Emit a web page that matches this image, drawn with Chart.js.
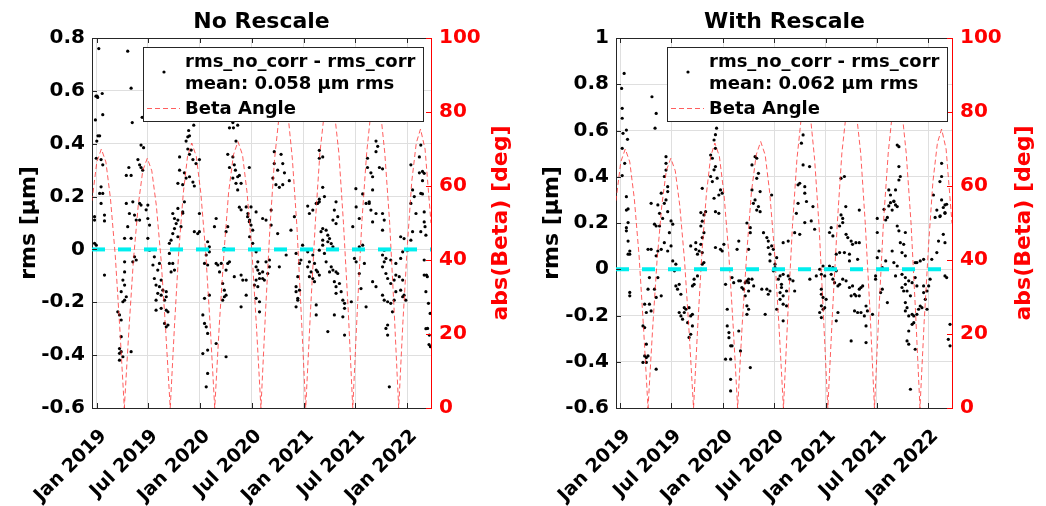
<!DOCTYPE html>
<html>
<head>
<meta charset="utf-8">
<script src="https://cdn.jsdelivr.net/npm/chart.js@4.4.0/dist/chart.umd.min.js"></script>
<style>
  html, body { margin: 0; padding: 0; background: #fff; }
  .panel { position: absolute; top: 0; width: 523px; height: 506px; }
  #panelLeft { left: 0; }
  #panelRight { left: 523px; }
</style>
</head>
<body>
<div class="panel" id="panelLeft"><canvas id="chartNoRescale" width="523" height="506"></canvas></div>
<div class="panel" id="panelRight"><canvas id="chartWithRescale" width="523" height="506"></canvas></div>
<script>
const FONT_FAMILY = '"DejaVu Sans", "Liberation Sans", sans-serif';
const AXIS_COLOR = '#262626';
const GRID_COLOR = '#dfdfdf';
const BETA_COLOR = 'rgba(255, 40, 40, 0.75)';
const ZERO_COLOR = 'rgb(0, 238, 238)';

// x axis: days since 1 Jan 2019
const xMin = -16;
const xMax = 1180;
const dateTickDays = [0, 181, 365, 547, 731, 912, 1096];
const dateTickLabels = ['Jan 2019', 'Jul 2019', 'Jan 2020', 'Jul 2020', 'Jan 2021', 'Jul 2021', 'Jan 2022'];

const rmsTicksNoRescale = [-0.6, -0.4, -0.2, 0, 0.2, 0.4, 0.6, 0.8];
const rmsTicksWithRescale = [-0.6, -0.4, -0.2, 0, 0.2, 0.4, 0.6, 0.8, 1];
const betaTicks = [0, 20, 40, 60, 80, 100];
const zeroLevel = 0;

const meanNoRescale = 0.058;
const meanWithRescale = 0.062;

const betaDays = [-16, 1, 17, 33, 49, 66, 82, 98, 114, 130, 147, 163, 179, 195, 211, 228, 244, 260,
  275, 290, 306, 321, 336, 352, 368, 385, 401, 417, 433, 450, 466, 483, 499, 515, 531, 548, 564, 580,
  596, 612, 628, 644, 660, 676, 691, 707, 722, 738, 755, 772, 788, 805, 822, 838, 855, 871, 888, 904,
  920, 936, 953, 969, 985, 1001, 1017, 1034, 1050, 1066, 1081, 1097, 1112, 1128, 1143, 1159, 1180];
const betaDeg = [56, 66.5, 70, 66.5, 56.7, 41.3, 21.7, 0, 20.9, 39.8, 54.7, 64.1, 67.5, 64.1, 54.7, 39.8, 20.9, 0,
  22.2, 42.2, 58, 68, 71.6, 68, 58, 42.2, 22.2, 0, 22.3, 42.5, 58.3, 68.4, 72, 68.4, 58.3, 42.5, 22.3, 0,
  25.7, 49, 67.2, 78.9, 83, 78.9, 67.2, 49, 25.7, 0, 26.4, 50.2, 68.9, 80.8, 85, 80.8, 68.9, 50.2, 26.4, 0,
  26.4, 50.2, 68.9, 80.8, 85, 80.8, 68.9, 50.2, 26.4, 0, 23.4, 44.5, 61.1, 71.6, 75.4, 70, 50];

// [day, rms difference in µm]
const noRescalePoints = [
  [8,0.76],[110,0.75],[-2,0.58],[2,0.58],[4,0.575],[20,0.59],[122,0.61],[22,0.51],[-4,0.49],[126,0.48],[161,0.5],
  [5,0.43],[11,0.43],[1,0.41],[157,0.395],[166,0.385],[343,0.47],[325,0.45],[328,0.43],[316,0.41],[322,0.426],[334,0.376],
  [481,0.48],[469,0.46],[483,0.46],[492,0.41],[498,0.47],
  [-1,0.345],[16,0.34],[22,0.32],[146,0.34],[152,0.32],[157,0.31],[163,0.3],[114,0.31],[105,0.28],[122,0.28],
  [293,0.35],[322,0.38],[328,0.36],[340,0.34],[363,0.34],[351,0.325],[293,0.3],[310,0.29],[316,0.27],[328,0.275],
  [287,0.25],[304,0.245],[340,0.255],[345,0.24],
  [463,0.36],[481,0.35],[486,0.32],[469,0.31],[490,0.3],[498,0.275],[481,0.27],[492,0.25],[539,0.31],[504,0.28],[510,0.25],
  [498,0.225],[504,0.16],[510,0.15],[533,0.124],[539,0.105],
  [627,0.37],[651,0.36],[627,0.325],[657,0.325],[639,0.3],[663,0.29],[622,0.27],[633,0.245],[645,0.235],[657,0.245],[680,0.26],
  [786,0.375],[786,0.345],[798,0.35],[798,0.235],[804,0.2],[786,0.19],
  [956,0.345],[986,0.37],[986,0.41],[992,0.39],[956,0.31],[968,0.29],[974,0.225],[998,0.31],[1009,0.305],[974,0.275],
  [1109,0.32],[1139,0.35],[1144,0.395],[1139,0.29],[1150,0.295],[1115,0.225],[1150,0.21],[1121,0.2],
  [16,0.237],[11,0.212],[22,0.212],[16,0.174],[105,0.174],[128,0.18],[152,0.174],[157,0.168],[181,0.168],[175,0.15],
  [745,0.164],[763,0.149],[780,0.174],[915,0.23],[939,0.21],[962,0.174],[1109,0.174],
  [-7,0.124],[-7,0.111],[28,0.13],[28,0.108],[-7,0.023],[-1,0.016],[28,-0.097],
  [116,0.136],[134,0.13],[140,0.111],[152,0.111],[110,0.086],[99,0.042],[122,0.042],
  [99,-0.047],[128,-0.047],[140,-0.04],[134,-0.028],
  [99,-0.085],[93,-0.116],[99,-0.135],[87,-0.16],[105,-0.179],[99,-0.192],[93,-0.198],
  [75,-0.236],[81,-0.248],[87,-0.267],[87,-0.33],[81,-0.375],[87,-0.387],[81,-0.393],[93,-0.406],[122,-0.387],[81,-0.419],
  [181,0.117],[187,0.092],[181,0.042],[187,-0.003],
  [204,-0.028],[199,-0.059],[222,-0.053],[216,-0.078],[204,-0.11],[228,-0.116],[210,-0.135],[222,-0.141],[234,-0.154],
  [246,-0.16],[216,-0.166],[228,-0.173],[246,-0.179],[210,-0.192],[240,-0.192],[228,-0.223],[246,-0.23],[252,-0.236],
  [210,-0.23],[240,-0.28],[246,-0.293],[252,-0.286],
  [257,-0.053],[269,-0.053],[263,-0.085],[275,-0.078],[257,-0.015],[257,0.023],[263,0.035],[269,0.06],[275,0.079],
  [281,0.098],[287,0.111],[275,0.117],[269,0.136],[287,0.155],[304,0.142],[310,0.18],[298,0.086],[304,0.137],[287,0.048],
  [363,0.136],[363,0.067],[345,0.067],[357,0.06],[392,0.029],[398,0.01],[398,-0.009],[387,-0.021],[381,-0.053],[392,-0.059],
  [381,-0.185],[375,-0.248],[381,-0.28],[387,-0.293],[392,-0.318],[375,-0.394],[392,-0.381],[392,-0.469],[387,-0.52],
  [398,-0.173],[416,0.086],[422,0.117],
  [422,-0.053],[428,-0.059],[440,-0.053],[434,-0.085],[445,-0.129],[451,-0.154],[451,-0.179],[445,-0.192],[457,-0.173],
  [457,-0.406],[422,-0.356],[463,-0.053],[469,-0.047],[457,0.067],[463,0.086],[451,0.004],[457,-0.078],
  [486,-0.103],[510,-0.097],[516,-0.116],[528,-0.116],[510,-0.217],[528,-0.173],
  [534,0.136],[540,0.111],[545,0.092],[551,0.073],[540,0.048],[551,0.023],[528,0.161],[545,0.161],[563,0.142],
  [563,-0.009],[569,-0.047],[563,-0.066],[569,-0.078],[575,-0.091],[586,-0.085],[575,-0.11],[563,-0.116],[557,-0.135],
  [569,-0.141],[598,-0.047],[610,-0.04],[610,-0.066],[604,-0.091],[592,-0.116],[586,-0.11],[563,-0.185],[575,-0.198],[575,-0.236],
  [586,0.117],[598,0.111],[616,0.092],[616,0.149],
  [639,0.06],[686,0.073],[698,0.124],[727,0.016],[704,-0.015],[721,-0.04],[716,-0.053],[710,-0.103],[704,-0.141],
  [716,-0.154],[704,-0.16],[710,-0.185],[710,-0.192],[704,-0.217],[775,-0.21],[775,-0.248],[645,-0.066],[669,-0.021],
  [751,0.136],[775,0.174],[786,0.18],[792,0.067],[798,0.035],[798,0.016],[786,-0.003],[745,-0.009],[763,-0.021],
  [751,-0.047],[745,-0.066],[757,-0.085],[751,-0.103],[769,-0.053],[775,-0.078],[780,-0.085],[786,-0.097],[769,-0.122],[763,-0.11],
  [798,0.079],[810,0.073],[816,0.054],[822,0.041],[816,0.029],[828,0.022],[834,0.01],[804,-0.015],[810,-0.047],[822,-0.085],
  [828,-0.066],[834,-0.078],[845,-0.085],[851,-0.091],[839,-0.122],[845,-0.141],[857,-0.129],[863,-0.16],[869,-0.192],
  [875,-0.204],[875,-0.223],[869,-0.255],[845,-0.166],[816,-0.311],[839,-0.248],[875,-0.324],
  [845,0.18],[839,0.149],[851,0.124],[834,0.111],[845,0.098],
  [899,-0.198],[910,-0.034],[916,-0.047],[927,0.01],[939,0.016],[945,-0.053],[951,-0.217],[927,-0.091],[933,-0.148],
  [904,0.086],[916,0.161],[927,0.117],[951,0.174],[962,0.18],[968,0.149],[986,0.136],[974,0.104],[1009,0.136],
  [1015,0.111],[1009,0.073],[974,-0.122],[986,-0.141],
  [1015,-0.003],[1009,-0.021],[1021,-0.034],[1038,-0.04],[1015,-0.047],[1009,-0.066],[1021,-0.091],[1027,-0.11],
  [1038,-0.129],[1050,-0.116],[1056,-0.097],[1068,-0.103],[1080,-0.116],[1009,-0.173],[1015,-0.192],[1027,-0.198],
  [1038,-0.204],[1050,-0.192],[1044,-0.236],[1027,-0.286],[1021,-0.299],[1027,-0.324],[1056,-0.16],[1073,-0.154],
  [1080,-0.179],[1091,-0.192],[1085,-0.173],[1033,-0.52],[1073,0.048],[1085,0.041],[1097,-0.003],[1109,0.035],
  [1080,-0.009],[1056,-0.053],[1073,-0.034],
  [1115,0.067],[1127,0.136],[1156,0.142],[1156,0.104],[1144,0.067],[1156,-0.04],[1156,-0.097],[1168,-0.299],
  [1174,-0.324],[1178,-0.368],[1156,0.288],[1150,0.26],[1144,0.212],[1159,0.086],[1162,0.054],[1164,-0.097],
  [1167,-0.103],[1162,-0.16],[1171,-0.204],[1177,-0.242],[1162,-0.3],[1173,-0.36]
];

const withRescalePoints = [
  [13,0.847],[4,0.782],[6,0.696],[6,0.653],[21,0.602],[9,0.588],[25,0.562],[6,0.523],[15,0.458],[6,0.405],[21,0.314],
  [27,0.261],[21,0.256],
  [112,0.746],[127,0.674],[123,0.61],
  [162,0.487],[162,0.458],[162,0.429],[156,0.401],[168,0.357],[145,0.329],[168,0.336],[162,0.3],[109,0.285],[133,0.278],
  [156,0.285],[168,0.249],[139,0.242],[150,0.22],
  [342,0.61],[338,0.582],[333,0.559],[338,0.523],[321,0.494],[327,0.48],[338,0.444],[333,0.43],[321,0.401],[344,0.394],
  [327,0.379],[356,0.343],[350,0.321],[362,0.329],[333,0.307],[291,0.35],[303,0.249],[297,0.235],[286,0.245],[338,0.249],[350,0.242],
  [479,0.487],[485,0.48],[468,0.451],[491,0.415],[485,0.393],[468,0.343],[497,0.336],[479,0.3],[491,0.271],[497,0.249],
  [485,0.256],[538,0.321],[473,0.285],
  [650,0.581],[644,0.545],[650,0.451],[673,0.444],[638,0.372],[632,0.365],[656,0.357],[656,0.329],[632,0.285],[662,0.293],
  [685,0.271],[626,0.242],
  [797,0.401],[785,0.393],[802,0.271],[850,0.256],[791,0.22],[785,0.235],
  [985,0.537],[991,0.53],[955,0.343],[961,0.321],[973,0.293],[985,0.271],[967,0.256],[979,0.278],[991,0.444],[996,0.401],
  [991,0.386],[979,0.343],[914,0.22],[944,0.213],
  [1143,0.458],[1143,0.401],[1137,0.379],[1114,0.321],[1143,0.3],[1155,0.278],[1126,0.256],[1155,0.242],[1137,0.228],
  [27,0.202],[21,0.18],[21,0.166],[27,0.122],[33,0.079],[33,0.065],[27,0.065],[33,-0.1],[33,-0.115],
  [121,0.195],[139,0.187],[127,0.187],[98,0.086],[109,0.086],[133,0.079],[145,0.086],[127,0.058],[156,0.115],[174,0.158],
  [180,0.101],[168,0.079],
  [103,-0.036],[133,-0.036],[98,-0.086],[121,-0.086],[86,-0.151],[103,-0.151],[109,-0.18],[92,-0.187],[80,-0.245],
  [86,-0.252],[92,-0.324],[86,-0.375],[92,-0.382],[98,-0.375],[80,-0.403],[92,-0.403],[127,-0.432],[145,-0.115],[127,-0.122],
  [186,0.036],[197,0.022],[192,-0.007],[197,-0.072],[203,-0.086],[209,-0.065],[215,-0.108],[209,-0.187],[215,-0.202],
  [227,-0.187],[221,-0.216],[233,-0.173],[244,-0.166],[250,-0.202],[239,-0.231],[256,-0.195],[256,-0.245],[250,-0.281],
  [244,-0.295],[227,-0.166],[256,-0.072],[262,-0.065],[186,0.195],[180,0.209],
  [250,0.101],[268,0.115],[268,0.086],[274,0.065],[280,0.079],[291,0.072],[286,0.108],[291,0.137],[297,0.158],[286,0.187],
  [291,0.208],[291,0.022],[297,0.029],[274,-0.029],[262,-0.043],
  [338,0.094],[356,0.086],[362,0.079],[368,0.108],
  [374,-0.065],[380,-0.173],[380,-0.245],[386,-0.274],[386,-0.296],[392,-0.331],[397,-0.331],[374,-0.389],[392,-0.389],
  [392,-0.476],[392,-0.526],[421,-0.267],[427,-0.353],[397,-0.036],[403,-0.058],[421,-0.05],[427,-0.05],[432,-0.079],
  [438,-0.086],[444,-0.058],[450,-0.05],[456,-0.094],[444,-0.115],[450,-0.158],[456,-0.173],[450,-0.195],[462,-0.425],
  [415,0.086],[421,0.122],
  [456,0.086],[462,0.158],[462,0.18],[450,0.2],[509,0.158],[521,0.137],[526,0.122],[526,0.094],[538,0.101],[532,0.065],
  [532,0.036],[544,0.086],
  [456,-0.043],[468,-0.043],[456,-0.058],[474,-0.072],[503,-0.086],[521,-0.086],[526,-0.108],[532,-0.094],[515,-0.195],
  [556,-0.173],[568,-0.101],[573,-0.079],[573,-0.065],[562,-0.043],[568,-0.029],[579,-0.022],[597,-0.029],[603,-0.043],
  [614,-0.05],[620,-0.094],[591,-0.094],[579,-0.115],[568,-0.13],[579,-0.151],[591,-0.158],[579,-0.223],[550,0.007],
  [550,0.022],[544,-0.007],[556,0.05],
  [579,0.115],[597,0.122],[620,0.158],[638,0.151],[674,-0.043],[697,-0.029],[709,0],[715,-0.022],[721,0.014],[727,-0.029],
  [715,-0.086],[715,-0.108],[721,-0.122],[732,-0.13],[715,-0.158],[721,-0.173],[709,-0.187],[715,-0.209],[727,-0.166],
  [656,0.202],[679,0.209],[691,0.173],
  [744,0.159],[756,0.144],[750,0.18],[768,0.065],[780,0.072],[780,0.187],[791,0.202],[803,0.151],[809,0.137],[821,0.122],
  [826,0.108],[838,0.115],[850,0.115],[844,0.043],[815,0.065],[815,0.036],[797,0.072],[744,0.014],[756,0.007],[762,0],
  [768,-0.007],[750,-0.022],[756,-0.043],[762,-0.058],[774,-0.072],[780,-0.065],[791,-0.043],[803,-0.05],[815,-0.079],
  [826,-0.072],[821,-0.115],[833,-0.108],[838,-0.115],[850,-0.086],[856,-0.079],[862,-0.072],[850,-0.115],[833,-0.18],
  [844,-0.187],[856,-0.187],[874,-0.159],[879,-0.18],[868,-0.202],[874,-0.245],[897,-0.195],[821,-0.31],[874,-0.317],
  [774,-0.187],[768,-0.223],
  [914,0.159],[920,0.079],[914,0.05],[932,0.007],[944,0.036],[961,0.288],[973,0.295],[985,0.187],[991,0.166],[996,0.115],
  [1008,0.108],[1014,0.159],[1002,0.072],[1014,0.058],[967,0.079],[973,0.029],[985,0.014],[950,0.224],[938,0.259],[955,0.274],
  [908,-0.029],[908,-0.043],[932,-0.086],[926,-0.101],[950,-0.144],[979,-0.029],[1002,-0.022],[1014,-0.036],[1026,-0.05],
  [1038,-0.058],[1014,-0.065],[1002,-0.079],[1008,-0.094],[1020,-0.094],[1032,-0.115],[1014,-0.144],[1020,-0.166],
  [1014,-0.18],[1026,-0.202],[1038,-0.195],[1044,-0.202],[1055,-0.195],[1061,-0.173],[1067,-0.159],[1073,-0.166],
  [1091,-0.173],[1085,-0.13],[1079,-0.101],[1079,-0.072],[1091,-0.094],[1097,-0.072],[1102,-0.043],[1055,-0.072],
  [1049,-0.036],[1049,0.029],[1055,0.029],[1067,0.036],[1079,0.043],[1038,-0.238],[1044,-0.231],[1026,-0.267],
  [1020,-0.31],[1026,-0.324],[1032,-0.519],[1049,-0.346],
  [1108,0.043],[1126,0.072],[1132,0.122],[1149,0.151],[1155,0.115],[1138,0.231],[1120,0.224],[1149,0.267],[1155,0.245],
  [1161,0.281],[1155,-0.029],[1161,-0.036],[1167,-0.303],[1173,-0.331],[1173,-0.238]
];

function panelDecor(settings) {
  return {
    id: 'panelDecor',
    afterDatasetsDraw(chart) {
      const {ctx, chartArea: area, scales} = chart;
      const tickLen = 5;
      ctx.save();
      ctx.lineWidth = 1;
      ctx.strokeStyle = AXIS_COLOR;
      ctx.beginPath();
      ctx.moveTo(area.left, area.top + 0.5);
      ctx.lineTo(area.right, area.top + 0.5);
      dateTickDays.forEach(day => {
        const px = Math.round(scales.x.getPixelForValue(day)) + 0.5;
        ctx.moveTo(px, area.bottom);
        ctx.lineTo(px, area.bottom - tickLen);
        ctx.moveTo(px, area.top);
        ctx.lineTo(px, area.top + tickLen);
      });
      settings.rmsTicks.forEach(v => {
        const py = Math.round(scales.y.getPixelForValue(v)) + 0.5;
        ctx.moveTo(area.left, py);
        ctx.lineTo(area.left + tickLen, py);
      });
      ctx.stroke();
      ctx.strokeStyle = '#ff0000';
      ctx.beginPath();
      betaTicks.forEach(v => {
        const py = Math.round(scales.y2.getPixelForValue(v)) + 0.5;
        ctx.moveTo(area.right, py);
        ctx.lineTo(area.right - tickLen, py);
      });
      ctx.stroke();
      ctx.restore();
    },
    afterDraw(chart) {
      const {ctx, chartArea: area} = chart;
      const box = {x: area.right - settings.legendRight - 280, y: area.top + 9, w: 280, h: 74};
      ctx.save();

      // legend
      ctx.fillStyle = '#fff';
      ctx.fillRect(box.x, box.y, box.w, box.h);
      ctx.strokeStyle = AXIS_COLOR;
      ctx.lineWidth = 1;
      ctx.strokeRect(box.x + 0.5, box.y + 0.5, box.w, box.h);
      ctx.fillStyle = '#000';
      ctx.beginPath();
      ctx.arc(box.x + 21, box.y + 25, 1.6, 0, Math.PI * 2);
      ctx.fill();
      ctx.strokeStyle = BETA_COLOR;
      ctx.setLineDash([5, 3]);
      ctx.beginPath();
      ctx.moveTo(box.x + 4, box.y + 61.5);
      ctx.lineTo(box.x + 37, box.y + 61.5);
      ctx.stroke();
      ctx.setLineDash([]);
      ctx.font = `bold 18px ${FONT_FAMILY}`;
      ctx.textAlign = 'left';
      ctx.textBaseline = 'middle';
      ctx.fillText('rms_no_corr - rms_corr', box.x + 42, box.y + 15);
      ctx.fillText(`mean: ${settings.mean.toFixed(3)} µm rms`, box.x + 42, box.y + 37);
      ctx.fillText('Beta Angle', box.x + 42, box.y + 62);

      // right axis title, reading bottom to top
      ctx.translate(chart.width - 22, (area.top + area.bottom) / 2);
      ctx.rotate(-Math.PI / 2);
      ctx.textAlign = 'center';
      ctx.fillStyle = '#ff0000';
      ctx.font = `bold 22px ${FONT_FAMILY}`;
      ctx.fillText('abs(Beta) [deg]', 0, 0);
      ctx.restore();
    }
  };
}

class RescalePanel {
  constructor(canvasId, settings) {
    const thisPanel = this;

    thisPanel.settings = settings;
    thisPanel.getElements(canvasId);
    thisPanel.renderChart();
  }

  getElements(canvasId) {
    const thisPanel = this;

    thisPanel.canvas = document.getElementById(canvasId);
  }

  renderChart() {
    const thisPanel = this;
    const s = thisPanel.settings;
    const ctx = thisPanel.canvas.getContext('2d');
    const tickFont = {family: FONT_FAMILY, size: 20, weight: 'bold'};

    thisPanel.chart = new Chart(ctx, {
      type: 'scatter',
      data: {
        datasets: [{
          label: 'rms_no_corr - rms_corr',
          data: s.points.map(([day, rms]) => ({x: day, y: rms})),
          yAxisID: 'y',
          pointRadius: 1.6,
          pointBackgroundColor: '#000',
          pointBorderWidth: 0,
          order: 3,
        },
        {
          label: 'Beta Angle',
          data: betaDays.map((day, i) => ({x: day, y: betaDeg[i]})),
          yAxisID: 'y2',
          showLine: true,
          borderColor: BETA_COLOR,
          borderWidth: 1,
          borderDash: [5, 3],
          pointRadius: 0,
          order: 2,
        },
        {
          label: 'zero',
          data: [{x: xMin, y: zeroLevel}, {x: xMax, y: zeroLevel}],
          yAxisID: 'y',
          showLine: true,
          borderColor: ZERO_COLOR,
          borderWidth: 4,
          borderDash: [13, 13],
          pointRadius: 0,
          order: 1,
        }]
      },
      options: {
        responsive: false,
        animation: false,
        events: [],
        layout: {padding: 0},
        plugins: {
          legend: {display: false},
          tooltip: {enabled: false},
          title: {
            display: true,
            text: s.title,
            color: '#000',
            font: {family: FONT_FAMILY, size: 22, weight: 'bold'},
            padding: {top: 9, bottom: 2.6},
          },
        },
        scales: {
          x: {
            type: 'linear',
            min: xMin,
            max: xMax,
            afterBuildTicks: scale => { scale.ticks = dateTickDays.map(value => ({value})); },
            afterFit: scale => { scale.height = 98; },
            grid: {color: GRID_COLOR, drawTicks: false},
            border: {color: AXIS_COLOR},
            ticks: {
              autoSkip: false,
              minRotation: 45,
              maxRotation: 45,
              padding: 17,
              labelOffset: 7,
              color: '#000',
              font: {family: FONT_FAMILY, size: 19, weight: 'bold'},
              callback: (value, index) => dateTickLabels[index],
            },
          },
          y: {
            position: 'left',
            min: s.rmsTicks[0],
            max: s.rmsTicks[s.rmsTicks.length - 1],
            afterBuildTicks: scale => { scale.ticks = s.rmsTicks.map(value => ({value})); },
            afterFit: scale => { scale.width = s.leftWidth; },
            grid: {color: GRID_COLOR, drawTicks: false},
            border: {color: AXIS_COLOR},
            ticks: {
              padding: 7,
              color: '#000',
              font: tickFont,
              callback: value => String(Number(value.toFixed(1))),
            },
            title: {
              display: true,
              text: 'rms [µm]',
              color: '#000',
              font: {family: FONT_FAMILY, size: 22, weight: 'bold'},
              padding: {top: 16, bottom: 0},
            },
          },
          y2: {
            position: 'right',
            min: 0,
            max: 100,
            afterBuildTicks: scale => { scale.ticks = betaTicks.map(value => ({value})); },
            afterFit: scale => { scale.width = s.rightWidth; },
            grid: {drawOnChartArea: false, drawTicks: false},
            border: {color: '#ff0000'},
            ticks: {
              padding: 8,
              color: '#ff0000',
              font: tickFont,
            },
          },
        },
      },
      plugins: [panelDecor(s)],
    });
  }
}

new RescalePanel('chartNoRescale', {
  title: 'No Rescale',
  points: noRescalePoints,
  rmsTicks: rmsTicksNoRescale,
  mean: meanNoRescale,
  leftWidth: 92,
  rightWidth: 92,
  legendRight: 8,
});

new RescalePanel('chartWithRescale', {
  title: 'With Rescale',
  points: withRescalePoints,
  rmsTicks: rmsTicksWithRescale,
  mean: meanWithRescale,
  leftWidth: 93,
  rightWidth: 94,
  legendRight: 5,
});
</script>
</body>
</html>
